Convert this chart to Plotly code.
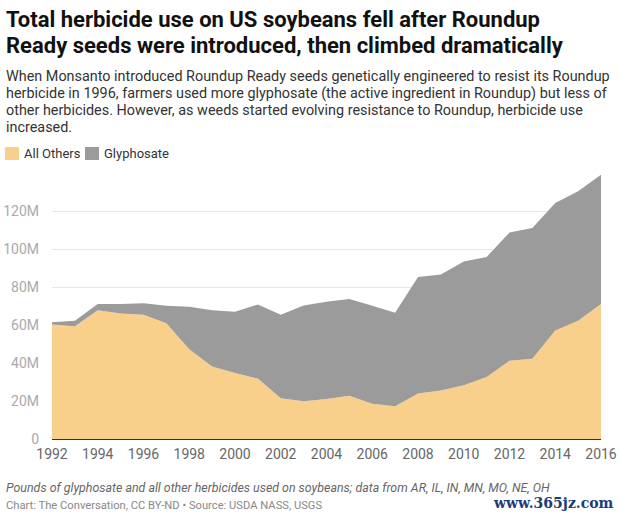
import plotly.graph_objects as go

years = list(range(1992, 2017))
all_others = [60.2, 59.3, 67.7, 66.0, 65.4, 60.9, 47.3, 38.2, 34.7, 31.8, 21.5, 19.9,
              21.1, 22.7, 18.5, 17.3, 23.9, 25.5, 28.3, 32.6, 41.2, 42.2, 57.1, 62.3, 71.0]
glyphosate = [1.2, 3.0, 3.3, 5.0, 6.0, 9.2, 22.3, 29.6, 32.3, 39.0, 43.9, 50.4,
              51.2, 51.0, 51.6, 49.1, 61.3, 61.1, 65.1, 63.2, 67.5, 68.8, 67.1, 68.1, 68.1]
# millions of pounds
all_others = [v * 1e6 for v in all_others]
glyphosate = [v * 1e6 for v in glyphosate]

y_ticks = [0, 20e6, 40e6, 60e6, 80e6, 100e6, 120e6]
y_labels = ["0", "20M", "40M", "60M", "80M", "100M", "120M"]

c_others = "#f8d08c"
c_gly = "#9b9b9b"

fig = go.Figure()
fig.add_trace(go.Scatter(x=years, y=all_others, name="All Others", stackgroup="one",
                         mode="lines", line=dict(width=0, color=c_others),
                         fillcolor=c_others))
fig.add_trace(go.Scatter(x=years, y=glyphosate, name="Glyphosate", stackgroup="one",
                         mode="lines", line=dict(width=0, color=c_gly),
                         fillcolor=c_gly))

font = "Roboto"
fig.update_layout(
    width=620, height=518,
    margin=dict(l=52, r=19, t=173, b=79, autoexpand=False),
    paper_bgcolor="white", plot_bgcolor="white",
    font=dict(family=font, color="#333"),
    showlegend=False,
    xaxis=dict(range=[1992, 2016], tickmode="linear", tick0=1992, dtick=2,
               showgrid=False, zeroline=False, showline=False, automargin=False,
               tickfont=dict(size=14, color="#666"), ticks="", ticklen=0,
               ticklabelstandoff=5),
    yaxis=dict(range=[0, 140e6], tickvals=y_ticks, ticktext=y_labels, automargin=False,
               showgrid=True, gridcolor="#e6e6e6", zeroline=True,
               zerolinecolor="#333", zerolinewidth=1.5,
               tickfont=dict(size=14, color="#aaa"), ticklabelstandoff=12),
    hovermode=False,
)

def px(p):
    return (p - 52) / 549

def py_(p):
    return (439 - p) / 266

def note(text, x, y, size, color, xanchor="left", family=font):
    fig.add_annotation(xref="paper", yref="paper", x=x, y=y, xanchor=xanchor,
                       yanchor="middle", align="left", showarrow=False, text=text,
                       font=dict(family=family, size=size, color=color))

# title and subtitle
note("<b>Total herbicide use on US soybeans fell after Roundup</b>", px(4), py_(20), 22, "#111")
note("<b>Ready seeds were introduced, then climbed dramatically</b>", px(4), py_(45), 22, "#111")
sub = ["When Monsanto introduced Roundup Ready seeds genetically engineered to resist its Roundup",
       "herbicide in 1996, farmers used more glyphosate (the active ingredient in Roundup) but less of",
       "other herbicides. However, as weeds started evolving resistance to Roundup, herbicide use",
       "increased."]
for i, line in enumerate(sub):
    note(line, px(4), py_(76 + 17.3 * i), 14.4, "#333")

# legend
fig.add_shape(type="rect", xref="paper", yref="paper", x0=px(5), x1=px(19),
              y0=py_(160), y1=py_(147), fillcolor=c_others, line_width=0)
fig.add_shape(type="rect", xref="paper", yref="paper", x0=px(85), x1=px(99),
              y0=py_(160), y1=py_(147), fillcolor=c_gly, line_width=0)
note("All Others", px(22), py_(153.5), 13, "#333")
note("Glyphosate", px(102), py_(153.5), 13, "#333")

# footer
note("<i>Pounds of glyphosate and all other herbicides used on soybeans; data from AR, IL, IN, MN, MO, NE, OH</i>",
     px(4), py_(487), 12.4, "#666")
note("Chart: The Conversation, CC BY-ND • Source: USDA NASS, USGS", px(4), py_(505), 11.2, "#888")
note("<b>www.365jz.com</b>", px(616), py_(503), 14, "#1c3c78", xanchor="right", family="DejaVu Serif")

# the page's default body margin would push the chart 8px right and down
fig.write_html("out.html", config={"displayModeBar": False},
               post_script="document.body.style.margin='0';")
